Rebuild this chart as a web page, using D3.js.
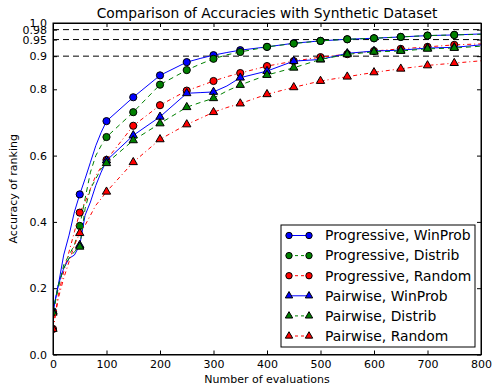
<!DOCTYPE html>
<html>
<head>
<meta charset="utf-8">
<script src="https://cdn.jsdelivr.net/npm/d3@7"></script>
<style>
  body { margin: 0; background: #fff; }
  text { font-family: "DejaVu Sans", sans-serif; fill: #000; }
  .axis path, .axis line { stroke: #000; }
</style>
</head>
<body>
<div id="chart"></div>
<script>
// number of evaluations at which the curves were read
var evals = [0,10,20,30,40,50,60,70,80,90,100,150,200,250,275,300,325,350,400,450,500,550,600,650,700,750,800];

var progWinProb = [0.13,0.21,0.30,0.36,0.43,0.483,0.53,0.58,0.63,0.67,0.704,0.776,0.842,0.882,0.893,0.903,0.911,0.918,0.928,0.939,0.946,0.951,0.954,0.958,0.962,0.964,0.967];
var progDistrib = [0.126,0.20,0.27,0.30,0.33,0.388,0.47,0.55,0.60,0.63,0.656,0.731,0.814,0.858,0.876,0.892,0.904,0.9125,0.928,0.938,0.946,0.951,0.954,0.958,0.962,0.964,0.966];
var progRandom  = [0.077,0.18,0.25,0.31,0.37,0.428,0.46,0.50,0.54,0.565,0.587,0.690,0.752,0.796,0.81,0.825,0.838,0.849,0.870,0.885,0.897,0.906,0.9155,0.922,0.928,0.934,0.937];
var pairWinProb = [0.13,0.21,0.26,0.29,0.30,0.33,0.42,0.46,0.51,0.55,0.585,0.661,0.717,0.788,0.79,0.792,0.81,0.835,0.855,0.885,0.890,0.9085,0.9155,0.918,0.9245,0.9266,0.934];
var pairDistrib = [0.126,0.21,0.26,0.29,0.31,0.325,0.44,0.50,0.53,0.56,0.577,0.646,0.697,0.746,0.76,0.773,0.795,0.813,0.843,0.865,0.890,0.9055,0.913,0.9155,0.922,0.9245,0.93];
var pairRandom  = [0.077,0.17,0.23,0.28,0.33,0.366,0.39,0.42,0.45,0.47,0.491,0.580,0.649,0.694,0.712,0.731,0.745,0.757,0.785,0.806,0.825,0.838,0.851,0.862,0.872,0.879,0.886];

var seriesNames = ["Progressive, WinProb","Progressive, Distrib","Progressive, Random",
                   "Pairwise, WinProb","Pairwise, Distrib","Pairwise, Random"];
var xTicks = [0,100,200,300,400,500,600,700,800];
var yTicks = [0,0.2,0.4,0.6,0.8,0.9,0.95,0.98,1.0];
var yTickLabels = ["0.0","0.2","0.4","0.6","0.8","0.9","0.95","0.98","1.0"];
var refLines = [0.9,0.95,0.98];

var series = [
    {name: seriesNames[0], values: progWinProb, color: "#0000ff", dash: null,      marker: "circle"},
    {name: seriesNames[1], values: progDistrib, color: "#008000", dash: "5,4",     marker: "circle"},
    {name: seriesNames[2], values: progRandom,  color: "#ff0000", dash: "4,3,1,3", marker: "circle"},
    {name: seriesNames[3], values: pairWinProb, color: "#0000ff", dash: null,      marker: "triangle"},
    {name: seriesNames[4], values: pairDistrib, color: "#008000", dash: "5,4",     marker: "triangle"},
    {name: seriesNames[5], values: pairRandom,  color: "#ff0000", dash: "4,3,1,3", marker: "triangle"}
];

var margin = {top: 23, right: 11, bottom: 35.5, left: 53};
var width = 492 - margin.left - margin.right,
    height = 390 - margin.top - margin.bottom;

var root = d3.select("#chart")
    .append("svg")
    .attr("width", 492)
    .attr("height", 390);

var svg = root.append("g")
    .attr("transform", "translate(" + margin.left + "," + margin.top + ")");

var xScale = d3.scaleLinear().domain([0, 800]).range([0, width]);
var yScale = d3.scaleLinear().domain([0, 1]).range([height, 0]);

svg.append("clipPath").attr("id", "clip")
    .append("rect").attr("width", width).attr("height", height);

// reference lines
svg.selectAll(".ref")
    .data(refLines)
    .enter().append("line")
    .attr("class", "ref")
    .attr("x1", 0).attr("x2", width)
    .attr("y1", function(d) { return yScale(d); })
    .attr("y2", function(d) { return yScale(d); })
    .attr("stroke", "#000")
    .attr("stroke-width", 1)
    .attr("stroke-dasharray", "6,4");

var line = d3.line()
    .x(function(d) { return xScale(d.x); })
    .y(function(d) { return yScale(d.y); });

function drawMarker(sel, marker, color, r) {
    if (marker === "circle") {
        sel.append("circle").attr("r", r);
    } else {
        sel.append("path").attr("d", d3.symbol().type(d3.symbolTriangle).size(r * r * 2.3)());
    }
    sel.selectAll("circle, path")
        .attr("fill", color)
        .attr("stroke", "#000")
        .attr("stroke-width", 1);
}

var plot = svg.append("g").attr("clip-path", "url(#clip)");

series.forEach(function(s) {
    var pts = evals.map(function(e, i) { return {x: e, y: s.values[i]}; });
    var g = plot.append("g");
    g.append("path")
        .datum(pts)
        .attr("fill", "none")
        .attr("stroke", s.color)
        .attr("stroke-width", 1)
        .attr("stroke-dasharray", s.dash)
        .attr("d", line);

    var marks = pts.filter(function(d) { return d.x % 50 === 0 && d.x <= 750; });
    g.selectAll(".mk")
        .data(marks)
        .enter().append("g")
        .attr("transform", function(d) { return "translate(" + xScale(d.x) + "," + yScale(d.y) + ")"; })
        .each(function() { drawMarker(d3.select(this), s.marker, s.color, 3.6); });
});

// frame and inward ticks on all sides
svg.append("g").attr("class", "axis")
    .attr("transform", "translate(0," + height + ")")
    .call(d3.axisBottom(xScale).tickValues(xTicks).tickSizeInner(-4).tickSizeOuter(0).tickPadding(6))
    .call(function(g) { g.selectAll("text").style("font-size", "11px"); });

svg.append("g").attr("class", "axis")
    .call(d3.axisTop(xScale).tickValues(xTicks).tickSizeInner(-4).tickSizeOuter(0).tickFormat(""));

svg.append("g").attr("class", "axis")
    .call(d3.axisLeft(yScale).tickValues(yTicks).tickSizeInner(-4).tickSizeOuter(0).tickPadding(6)
        .tickFormat(function(d, i) { return yTickLabels[i]; }))
    .call(function(g) { g.selectAll("text").style("font-size", "11px"); });

svg.append("g").attr("class", "axis")
    .attr("transform", "translate(" + width + ",0)")
    .call(d3.axisRight(yScale).tickValues(yTicks).tickSizeInner(-4).tickSizeOuter(0).tickFormat(""));

svg.append("rect")
    .attr("width", width).attr("height", height)
    .attr("fill", "none").attr("stroke", "#000").attr("stroke-width", 1);

// titles
root.append("text")
    .attr("x", margin.left + width / 2).attr("y", 18)
    .attr("text-anchor", "middle")
    .style("font-size", "13.8px")
    .text("Comparison of Accuracies with Synthetic Dataset");

root.append("text")
    .attr("x", margin.left + width / 2).attr("y", 383)
    .attr("text-anchor", "middle")
    .style("font-size", "11px")
    .text("Number of evaluations");

root.append("text")
    .attr("transform", "translate(17," + (margin.top + height / 2) + ") rotate(-90)")
    .attr("text-anchor", "middle")
    .style("font-size", "11px")
    .text("Accuracy of ranking");

// legend
var legend = root.append("g").attr("transform", "translate(281,225)");
legend.append("rect")
    .attr("width", 194).attr("height", 122)
    .attr("fill", "#fff").attr("stroke", "#000").attr("stroke-width", 1);

var items = legend.selectAll(".item")
    .data(series)
    .enter().append("g")
    .attr("transform", function(d, i) { return "translate(0," + (10.5 + i * 20.1) + ")"; });

items.append("line")
    .attr("x1", 8).attr("x2", 28)
    .attr("stroke", function(d) { return d.color; })
    .attr("stroke-width", 1)
    .attr("stroke-dasharray", function(d) { return d.dash ? "3,3" : null; });

items.each(function(d) {
    var it = d3.select(this);
    [8, 28].forEach(function(x) {
        var m = it.append("g").attr("transform", "translate(" + x + ",0)");
        drawMarker(m, d.marker, d.color, 3.2);
    });
});

items.append("text")
    .attr("x", 44).attr("dy", "0.35em")
    .style("font-size", "13.9px")
    .text(function(d) { return d.name; });
</script>
</body>
</html>
